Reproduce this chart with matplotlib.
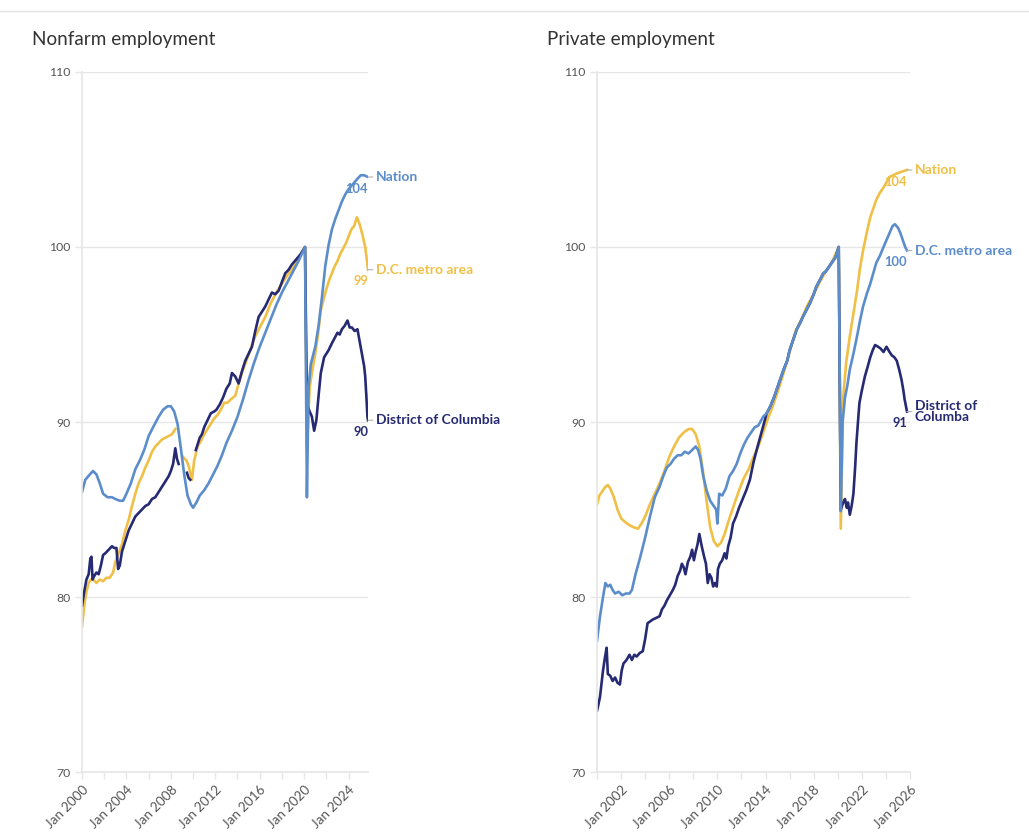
import matplotlib
matplotlib.use("Agg")
import matplotlib.pyplot as plt
import matplotlib.transforms as mtransforms
from matplotlib.lines import Line2D
import numpy as np

nan = np.nan

# ---- Nonfarm employment (index, Feb 2020 = 100) ----
nf_nation_x = [2000.0, 2000.3, 2000.7, 2001.0, 2001.3, 2001.6, 2001.9, 2002.3, 2002.7, 2003.0,
               2003.4, 2003.7, 2004.0, 2004.4, 2004.8, 2005.2, 2005.6, 2006.0, 2006.4, 2006.9,
               2007.3, 2007.7, 2008.0, 2008.3, 2008.6, 2008.9, 2009.2, 2009.5, 2009.8, 2010.0,
               2010.3, 2010.6, 2011.0, 2011.4, 2011.8, 2012.2, 2012.6, 2013.0, 2013.5, 2014.0,
               2014.5, 2015.0, 2015.5, 2016.0, 2016.5, 2017.0, 2017.5, 2018.0, 2018.5, 2019.0,
               2019.5, 2020.08, 2020.25, 2020.4, 2020.6, 2020.8, 2021.0, 2021.3, 2021.6, 2021.9,
               2022.2, 2022.5, 2022.8, 2023.1, 2023.4, 2023.7, 2024.0, 2024.4, 2024.8, 2025.1,
               2025.4, 2025.75]
nf_nation_y = [86.0, 86.7, 87.0, 87.2, 87.0, 86.5, 85.9, 85.7, 85.7, 85.6,
               85.5, 85.5, 85.9, 86.5, 87.3, 87.8, 88.4, 89.2, 89.7, 90.3,
               90.7, 90.9, 90.9, 90.6, 89.9, 88.5, 87.0, 85.8, 85.3, 85.1,
               85.4, 85.8, 86.1, 86.5, 87.0, 87.5, 88.1, 88.8, 89.5, 90.3,
               91.3, 92.4, 93.4, 94.3, 95.1, 95.9, 96.7, 97.4, 98.0, 98.6,
               99.2, 100.0, 85.7, 92.0, 93.3, 93.8, 94.3, 95.5, 97.1, 98.9,
               100.1, 101.0, 101.6, 102.1, 102.6, 103.0, 103.3, 103.6, 103.9, 104.1,
               104.1, 104.0]

nf_metro_x = [2000.0, 2000.2, 2000.4, 2000.6, 2000.8, 2001.0, 2001.3, 2001.6, 2001.9, 2002.2,
              2002.5, 2002.8, 2003.0, 2003.3, 2003.6, 2003.9, 2004.2, 2004.5, 2004.8, 2005.1,
              2005.4, 2005.7, 2006.0, 2006.3, 2006.6, 2006.9, 2007.2, 2007.5, 2007.8, 2008.1,
              2008.4, 2008.6, 2009.1, 2009.4, 2009.6, 2009.9, 2010.1, 2010.4, 2010.7, 2011.0,
              2011.3, 2011.6, 2011.9, 2012.2, 2012.5, 2012.8, 2013.1, 2013.4, 2013.8, 2014.1,
              2014.4, 2014.8, 2015.2, 2015.6, 2016.0, 2016.5, 2017.0, 2017.5, 2018.0, 2018.5,
              2019.0, 2019.5, 2020.08, 2020.25, 2020.5, 2020.75, 2021.0, 2021.25, 2021.5, 2021.75,
              2022.0, 2022.25, 2022.5, 2022.75, 2023.0, 2023.25, 2023.5, 2023.75, 2024.0, 2024.25,
              2024.5, 2024.75, 2025.0, 2025.25, 2025.5, 2025.6, 2025.75]
nf_metro_y = [78.3, 79.5, 80.3, 80.8, 81.0, 81.0, 80.8, 81.0, 80.9, 81.1,
              81.1, 81.4, 82.0, 82.5, 83.0, 83.8, 84.4, 85.2, 85.9, 86.5,
              86.9, 87.4, 87.8, 88.3, 88.6, 88.8, 89.0, 89.1, 89.2, 89.3,
              89.6, nan, 88.0, 87.8, 87.5, 86.7, 87.8, 88.6, 88.9, 89.3,
              89.6, 89.9, 90.2, 90.4, 90.7, 91.1, 91.1, 91.3, 91.5, 92.2,
              92.8, 93.5, 94.2, 94.9, 95.4, 96.0, 96.8, 97.4, 97.9, 98.4,
              98.8, 99.4, 100.0, 88.5, 92.0, 93.0, 93.9, 95.0, 96.4, 97.0,
              97.6, 98.1, 98.5, 98.9, 99.2, 99.6, 99.9, 100.2, 100.6, 101.0,
              101.2, 101.7, 101.3, 100.7, 100.0, 99.5, 98.7]

nf_dc_x = [2000.0, 2000.2, 2000.4, 2000.6, 2000.75, 2000.85, 2000.95, 2001.1, 2001.3, 2001.5,
           2001.7, 2001.9, 2002.1, 2002.4, 2002.7, 2002.9, 2003.1, 2003.25, 2003.4, 2003.6,
           2003.9, 2004.2, 2004.5, 2004.8, 2005.1, 2005.4, 2005.7, 2006.0, 2006.3, 2006.6,
           2006.9, 2007.2, 2007.5, 2007.8, 2008.0, 2008.2, 2008.4, 2008.55, 2008.7, 2009.0,
           2009.45, 2009.6, 2009.75, 2010.0, 2010.25, 2010.4, 2010.6, 2010.8, 2011.0, 2011.3,
           2011.6, 2011.9, 2012.1, 2012.4, 2012.7, 2013.0, 2013.3, 2013.5, 2013.8, 2014.1,
           2014.4, 2014.7, 2015.0, 2015.3, 2015.6, 2015.9, 2016.2, 2016.5, 2016.8, 2017.1,
           2017.4, 2017.7, 2018.0, 2018.3, 2018.6, 2018.9, 2019.3, 2019.7, 2020.08, 2020.25,
           2020.5, 2020.7, 2020.9, 2021.1, 2021.3, 2021.5, 2021.8, 2022.0, 2022.2, 2022.5,
           2022.75, 2023.0, 2023.2, 2023.4, 2023.65, 2023.9, 2024.1, 2024.3, 2024.55, 2024.8,
           2025.0, 2025.2, 2025.4, 2025.5, 2025.6, 2025.7, 2025.75]
nf_dc_y = [79.5, 80.3, 81.0, 81.3, 82.2, 82.3, 81.0, 81.2, 81.4, 81.3,
           81.8, 82.4, 82.5, 82.7, 82.9, 82.8, 82.8, 81.6, 81.8, 82.6,
           83.2, 83.8, 84.2, 84.6, 84.8, 85.0, 85.2, 85.3, 85.6, 85.7,
           86.0, 86.3, 86.6, 86.9, 87.2, 87.6, 88.5, 87.9, 87.6, nan,
           87.1, 86.8, 86.7, nan, 88.4, 88.7, 89.1, 89.3, 89.7, 90.1,
           90.5, 90.6, 90.7, 91.0, 91.4, 91.9, 92.2, 92.8, 92.6, 92.2,
           92.9, 93.5, 93.9, 94.3, 95.2, 96.0, 96.3, 96.6, 97.0, 97.4,
           97.3, 97.5, 98.0, 98.5, 98.7, 99.0, 99.3, 99.6, 100.0, 91.0,
           90.6, 90.3, 89.5, 90.1, 91.5, 92.8, 93.7, 93.9, 94.1, 94.5,
           94.8, 95.1, 95.0, 95.3, 95.5, 95.8, 95.4, 95.4, 95.2, 95.3,
           94.6, 93.9, 93.2, 92.6, 91.5, 90.3, 90.1]

# ---- Private employment ----
pe_nation_x = [2000.0, 2000.2, 2000.4, 2000.7, 2000.9, 2001.1, 2001.4, 2001.7, 2002.0, 2002.3,
               2002.7, 2003.0, 2003.4, 2003.7, 2004.0, 2004.4, 2004.8, 2005.2, 2005.6, 2006.0,
               2006.4, 2006.8, 2007.2, 2007.6, 2007.9, 2008.2, 2008.5, 2008.8, 2009.1, 2009.4,
               2009.7, 2010.0, 2010.3, 2010.6, 2011.0, 2011.4, 2011.8, 2012.2, 2012.6, 2013.0,
               2013.4, 2013.8, 2014.2, 2014.6, 2015.0, 2015.5, 2016.0, 2016.5, 2017.0, 2017.5,
               2018.0, 2018.5, 2019.0, 2019.5, 2020.08, 2020.25, 2020.45, 2020.7, 2021.0, 2021.3,
               2021.6, 2021.85, 2022.1, 2022.4, 2022.7, 2023.0, 2023.2, 2023.5, 2023.8, 2024.05,
               2024.3, 2024.6, 2024.9, 2025.3, 2025.75]
pe_nation_y = [85.3, 85.8, 86.0, 86.3, 86.4, 86.2, 85.7, 85.0, 84.5, 84.3,
               84.1, 84.0, 83.9, 84.2, 84.6, 85.3, 85.9, 86.5, 87.2, 88.0,
               88.6, 89.1, 89.4, 89.6, 89.6, 89.3, 88.6, 87.2, 85.5, 84.0,
               83.2, 82.9, 83.1, 83.6, 84.5, 85.3, 86.1, 86.8, 87.3, 88.0,
               88.6, 89.4, 90.2, 90.9, 91.7, 92.8, 94.0, 95.2, 95.9, 96.7,
               97.3, 98.0, 98.6, 99.1, 100.0, 83.9, 91.4, 93.4, 94.9, 96.2,
               97.5, 98.8, 99.8, 100.8, 101.7, 102.3, 102.7, 103.1, 103.4, 103.7,
               104.0, 104.1, 104.2, 104.3, 104.4]

pe_metro_x = [2000.0, 2000.25, 2000.5, 2000.7, 2000.9, 2001.1, 2001.3, 2001.5, 2001.8, 2002.1,
              2002.4, 2002.7, 2002.9, 2003.2, 2003.6, 2004.0, 2004.4, 2004.8, 2005.2, 2005.5,
              2005.8, 2006.1, 2006.4, 2006.7, 2007.0, 2007.3, 2007.6, 2007.9, 2008.2, 2008.4,
              2008.6, 2008.8, 2009.1, 2009.4, 2009.7, 2009.9, 2010.0, 2010.15, 2010.4, 2010.7,
              2011.0, 2011.3, 2011.6, 2011.9, 2012.2, 2012.5, 2012.8, 2013.1, 2013.4, 2013.8,
              2014.1, 2014.4, 2014.7, 2014.9, 2015.2, 2015.5, 2015.8, 2016.0, 2016.3, 2016.6,
              2016.9, 2017.1, 2017.4, 2017.7, 2018.0, 2018.2, 2018.5, 2018.8, 2019.0, 2019.3,
              2019.6, 2019.8, 2020.08, 2020.25, 2020.4, 2020.6, 2020.8, 2021.0, 2021.3, 2021.6,
              2021.85, 2022.1, 2022.4, 2022.7, 2022.95, 2023.2, 2023.5, 2023.8, 2024.05, 2024.3,
              2024.55, 2024.75, 2025.0, 2025.2, 2025.4, 2025.6, 2025.75]
pe_metro_y = [77.5, 78.9, 80.0, 80.8, 80.6, 80.7, 80.4, 80.2, 80.3, 80.1,
              80.2, 80.2, 80.4, 81.3, 82.3, 83.4, 84.6, 85.7, 86.3, 86.9,
              87.4, 87.6, 87.9, 88.1, 88.1, 88.3, 88.2, 88.4, 88.6, 88.4,
              87.9, 87.0, 86.1, 85.5, 85.2, 85.0, 84.2, 85.9, 85.8, 86.2,
              86.9, 87.2, 87.6, 88.2, 88.7, 89.1, 89.4, 89.7, 89.8, 90.3,
              90.5, 90.9, 91.4, 91.8, 92.4, 93.0, 93.5, 94.1, 94.7, 95.3,
              95.7, 96.0, 96.4, 96.8, 97.3, 97.7, 98.1, 98.5, 98.6, 98.9,
              99.2, 99.4, 100.0, 84.9, 90.0, 91.4, 92.1, 93.0, 93.9, 94.9,
              95.8, 96.6, 97.3, 97.9, 98.5, 99.1, 99.5, 100.0, 100.4, 100.8,
              101.2, 101.3, 101.1, 100.8, 100.4, 100.0, 99.8]

# D.C. private employment runs right under the metro-area line from 2014 to 2020
pe_dc_x = [2000.0, 2000.1, 2000.25, 2000.4, 2000.5, 2000.65, 2000.8, 2000.9, 2001.1, 2001.3,
           2001.5, 2001.7, 2001.9, 2002.05, 2002.2, 2002.45, 2002.7, 2002.9, 2003.1, 2003.3,
           2003.55, 2003.8, 2004.0, 2004.2, 2004.4, 2004.6, 2004.9, 2005.2, 2005.4, 2005.6,
           2005.8, 2006.05, 2006.3, 2006.5, 2006.7, 2006.9, 2007.05, 2007.2, 2007.35, 2007.55,
           2007.75, 2007.9, 2008.05, 2008.2, 2008.35, 2008.5, 2008.7, 2008.9, 2009.05, 2009.2,
           2009.35, 2009.5, 2009.65, 2009.8, 2009.95, 2010.05, 2010.2, 2010.4, 2010.6, 2010.75,
           2010.9, 2011.1, 2011.3, 2011.55, 2011.8, 2012.1, 2012.4, 2012.7, 2013.0, 2013.3,
           2013.7, 2014.1, 2014.4, 2014.7, 2014.9, 2015.2, 2015.5, 2015.8, 2016.0, 2016.3,
           2016.6, 2016.9, 2017.1, 2017.4, 2017.7, 2018.0, 2018.2, 2018.5, 2018.8, 2019.0,
           2019.3, 2019.6, 2019.8, 2020.08, 2020.25, 2020.45, 2020.6, 2020.75, 2020.85, 2021.0,
           2021.15, 2021.3, 2021.45, 2021.55, 2021.7, 2021.8, 2022.0, 2022.25, 2022.5, 2022.7,
           2022.9, 2023.1, 2023.35, 2023.55, 2023.8, 2024.05, 2024.3, 2024.5, 2024.7, 2024.9,
           2025.1, 2025.3, 2025.45, 2025.55, 2025.75]
pe_dc_y = [73.5, 73.8, 74.3, 75.2, 75.8, 76.5, 77.1, 75.6, 75.5, 75.2,
           75.4, 75.1, 75.0, 75.8, 76.2, 76.4, 76.7, 76.4, 76.7, 76.6,
           76.8, 76.9, 77.6, 78.5, 78.6, 78.7, 78.8, 78.9, 79.3, 79.5,
           79.8, 80.1, 80.4, 80.7, 81.2, 81.5, 81.9, 81.7, 81.3, 82.0,
           82.3, 82.7, 82.1, 82.6, 83.0, 83.6, 82.9, 82.3, 81.9, 80.8,
           81.3, 81.1, 80.6, 80.8, 80.6, 81.6, 81.9, 82.1, 82.5, 82.2,
           82.9, 83.4, 84.2, 84.6, 85.1, 85.6, 86.1, 86.7, 87.7, 88.5,
           89.5, 90.5, 90.9, 91.4, 91.8, 92.4, 93.0, 93.5, 94.1, 94.7,
           95.3, 95.7, 96.0, 96.4, 96.8, 97.3, 97.7, 98.1, 98.5, 98.6,
           98.9, 99.2, 99.4, 100.0, 85.0, 85.4, 85.6, 85.1, 85.4, 84.7,
           85.2, 85.9, 87.5, 88.8, 90.2, 91.1, 91.8, 92.6, 93.2, 93.7,
           94.1, 94.4, 94.3, 94.2, 94.0, 94.3, 94.0, 93.8, 93.7, 93.5,
           93.0, 92.4, 91.8, 91.3, 90.6]

BLUE = "#5b8dcb"
YELLOW = "#f0c046"
NAVY = "#262a73"

y_ticks = [70, 80, 90, 100, 110]

panels = [
    dict(title="Nonfarm employment", left=82, right=368, xmax=2025.75,
         tick_labels=[2000, 2004, 2008, 2012, 2016, 2020, 2024],
         series=[
             (nf_metro_x, nf_metro_y, YELLOW, "D.C. metro area", "99"),
             (nf_dc_x, nf_dc_y, NAVY, "District of Columbia", "90"),
             (nf_nation_x, nf_nation_y, BLUE, "Nation", "104"),
         ]),
    dict(title="Private employment", left=597, right=910, xmax=2026.0,
         tick_labels=[2002, 2006, 2010, 2014, 2018, 2022, 2026],
         series=[
             (pe_nation_x, pe_nation_y, YELLOW, "Nation", "104"),
             (pe_dc_x, pe_dc_y, NAVY, "District of\nColumba", "91"),
             (pe_metro_x, pe_metro_y, BLUE, "D.C. metro area", "100"),
         ]),
]

W, H = 1029, 838
fig = plt.figure(figsize=(W / 100, H / 100), dpi=100)
fig.add_artist(Line2D([0, 1], [1 - 11 / H] * 2, color="#e3e3e3", lw=1))

FONT = "Lato"
GRID = "#e6e6e6"
shift = mtransforms.ScaledTranslation(6 / 100, -2 / 100, fig.dpi_scale_trans)

for p in panels:
    ax = fig.add_axes([p["left"] / W, 1 - 772 / H, (p["right"] - p["left"]) / W, 700 / H])
    fig.text((p["left"] - 50) / W, 1 - 40 / H, p["title"], fontsize=13.6, family=FONT,
             color="#333333", va="center", ha="left")

    for xs, ys, color, name, val in p["series"]:
        ax.plot(xs, ys, color=color, lw=1.9, solid_joinstyle="round")
        xe, ye = xs[-1], ys[-1]
        ax.annotate(name, xy=(xe, ye), xytext=(5.5, 0), textcoords="offset points",
                    fontsize=10, fontweight="bold", color=color, family=FONT,
                    va="center", ha="left", linespacing=0.9,
                    arrowprops=dict(arrowstyle="-", color="#b0b0b0", lw=0.8,
                                    shrinkA=0, shrinkB=0),
                    annotation_clip=False)
        ax.annotate(val, xy=(xe, ye), xytext=(0, -4), textcoords="offset points",
                    fontsize=9.3, fontweight="bold", color=color, family=FONT,
                    va="top", ha="right", annotation_clip=False)

    ax.set_xlim(2000, p["xmax"])
    ax.set_ylim(70, 110)
    ax.set_yticks(y_ticks)
    ax.set_yticklabels([str(t) for t in y_ticks], family=FONT, fontsize=8.8, color="#555555")
    years = list(range(2000, int(p["xmax"]) + 1, 2))
    ax.set_xticks(years)
    ax.set_xticklabels(["Jan %d" % t if t in p["tick_labels"] else "" for t in years],
                       rotation=45, ha="right", rotation_mode="anchor",
                       family=FONT, fontsize=9.6, color="#555555")
    for lab in ax.get_xticklabels():
        lab.set_transform(lab.get_transform() + shift)
    ax.grid(axis="y", color=GRID, lw=1)
    ax.set_axisbelow(True)
    for s in ["top", "right"]:
        ax.spines[s].set_visible(False)
    for s in ["left", "bottom"]:
        ax.spines[s].set_color(GRID)
        ax.spines[s].set_linewidth(1.2)
    ax.tick_params(axis="both", colors=GRID, length=5, width=1)
    ax.tick_params(axis="y", labelcolor="#555555", pad=3)
    ax.tick_params(axis="x", labelcolor="#555555", pad=3)

fig.savefig("out.png", dpi=100)
